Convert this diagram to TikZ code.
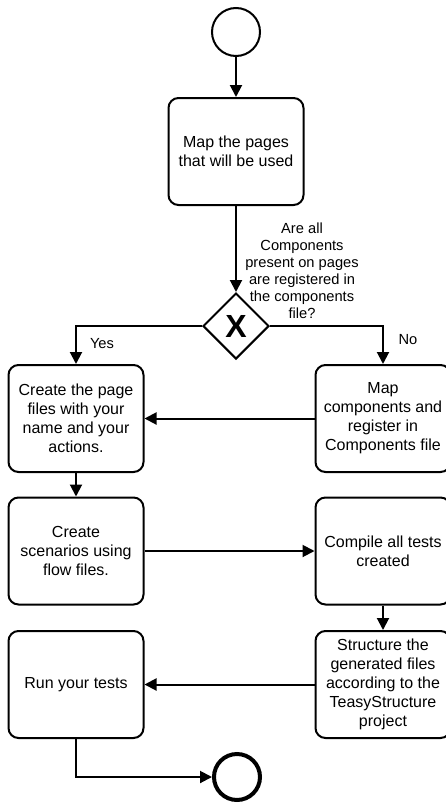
\documentclass[tikz,border=0pt]{standalone}
\usepackage{fontspec}
\setmainfont{Liberation Sans}
\usetikzlibrary{shapes.geometric,arrows.meta}

\tikzset{
  task/.style={draw,line width=1.5pt,rounded corners=7.5pt,minimum width=101.25pt,
    minimum height=80.25pt,align=center,inner sep=0pt,
    font=\fontsize{12}{14.25}\selectfont},
  event/.style={draw,circle,line width=1.5pt,minimum size=36pt,inner sep=0pt},
  endevent/.style={draw,circle,line width=3pt,minimum size=34.5pt,inner sep=0pt},
  gateway/.style={draw,diamond,line width=1.5pt,minimum width=49.5pt,minimum height=49.5pt,
    inner sep=0pt,font=\fontsize{24}{24}\selectfont\bfseries},
  flow/.style={line width=1.5pt,-{Triangle[length=9pt,width=9pt]}},
  lbl/.style={align=center,inner sep=0pt,font=\fontsize{11}{12.75}\selectfont}
}

\begin{document}
\begin{tikzpicture}[x=0.75pt,y=-0.75pt]
  \useasboundingbox (0,0) rectangle (446,803);
  \draw
    (236,32) node[event] (start){}
    (236,151.5) node[task] (map){Map the pages\\that will be used}
    (236,326) node[gateway] (gw){X}
    (76,418.5) node[task] (create){Create the page\\files with your\\name and your\\actions.}
    (383,418.5) node[task] (mapcomp){Map\\components and\\register in\\Components file}
    (76,551) node[task] (scen){Create\\scenarios using\\flow files.}
    (383,551) node[task] (compile){Compile all tests\\created}
    (383,684.5) node[task] (struct){Structure the\\generated files\\according to the\\TeasyStructure\\project}
    (76,684.5) node[task] (run){Run your tests}
    (237,777) node[endevent] (stop){};
  \node[lbl] (question) at (302,271) {Are all\\Components\\present on pages\\are registered in\\the components\\file?};
  \node[lbl] (yes) at (102,344) {Yes};
  \node[lbl] (no) at (408,340) {No};
  \begin{scope}[flow]
    \draw (start) to (map);
    \draw (map) to (gw);
    \draw (gw.west) -| (create);
    \draw (gw.east) -| (mapcomp);
    \draw (mapcomp) to (create);
    \draw (create) to (scen);
    \draw (scen) to (compile);
    \draw (compile) to (struct);
    \draw (struct) to (run);
    \draw (run) |- (stop);
  \end{scope}
\end{tikzpicture}
\end{document}
